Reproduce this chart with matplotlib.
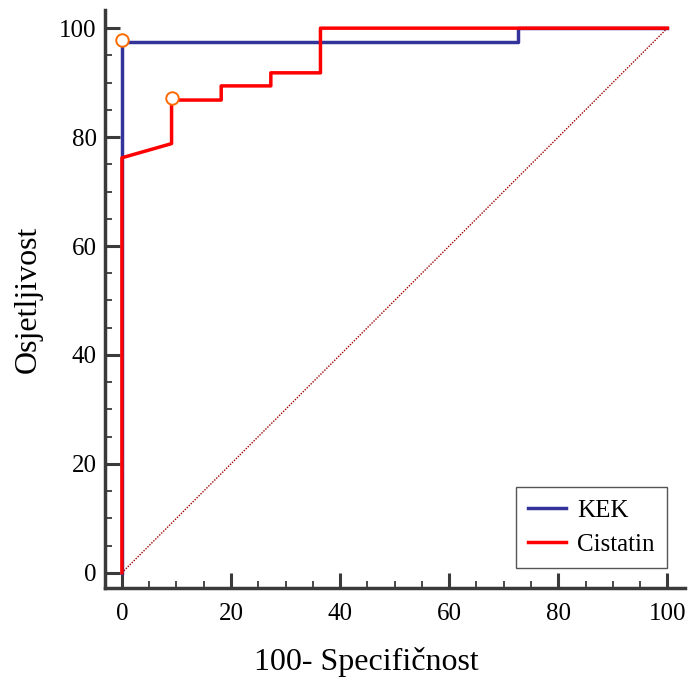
import matplotlib
matplotlib.use("Agg")
import matplotlib.pyplot as plt

plt.rcParams['font.family'] = ['Liberation Serif', 'DejaVu Serif']

# ROC curve points (100 - specificity, sensitivity)
kek_x = [0, 0, 72.7, 72.7, 100]
kek_y = [0, 97.4, 97.4, 100, 100]
cis_x = [0, 0, 9.1, 9.1, 18.2, 18.2, 27.3, 27.3, 36.4, 36.4, 100]
cis_y = [0, 76.2, 78.8, 86.8, 86.8, 89.4, 89.4, 91.8, 91.8, 100, 100]

# optimal cut-off points
kek_cut = (0, 97.8)
cis_cut = (9.1, 87.2)

fig = plt.figure(figsize=(6.91, 6.80), dpi=100)
ax = fig.add_axes([0.152, 0.1353, 0.839, 0.8497])

ax.plot([0, 100], [0, 100], color='#a00000', lw=1, ls=(0, (1, 1)))
ax.plot(kek_x, kek_y, color='#333399', lw=2.5, label='KEK', clip_on=False)
ax.plot(cis_x, cis_y, color='#ff0000', lw=2.5, label='Cistatin', clip_on=False)
ax.plot(*kek_cut, 'o', mfc='white', mec='#ff6a00', mew=1.4, ms=9, clip_on=False)
ax.plot(*cis_cut, 'o', mfc='white', mec='#ff6a00', mew=1.4, ms=9, clip_on=False)

ax.set_xlim(-3.1, 103.2)
ax.set_ylim(-2.8, 103.3)
ax.set_xticks(range(0, 101, 20))
ax.set_yticks(range(0, 101, 20))
ax.set_xticks([t for t in range(5, 100, 5) if t % 20], minor=True)
ax.set_yticks([t for t in range(5, 100, 5) if t % 20], minor=True)

for s in ['top', 'right']:
    ax.spines[s].set_visible(False)
for s in ['left', 'bottom']:
    ax.spines[s].set_color('#3a3a3a')
    ax.spines[s].set_linewidth(2.5)

ax.tick_params(which='major', direction='in', length=11, width=2.2, color='#3a3a3a',
               labelsize=18)
ax.tick_params(axis='y', which='major', pad=6)
ax.tick_params(axis='x', which='major', pad=11)
ax.tick_params(which='minor', direction='in', length=5, width=1.3, color='#3a3a3a')

ax.set_xlabel('100- Specifičnost', fontsize=23)
ax.xaxis.set_label_coords(0.45, -0.102)
ax.set_ylabel('Osjetljivost', fontsize=23, labelpad=12)

leg = ax.legend(loc='lower right', bbox_to_anchor=(0.9653, 0.1647),
                bbox_transform=fig.transFigure, borderaxespad=0, fontsize=18,
                fancybox=False, framealpha=1, edgecolor='#555555',
                handlelength=1.5, borderpad=0.5, labelspacing=0.45,
                handletextpad=0.45)
leg.get_frame().set_linewidth(1)

fig.savefig('out.png', dpi=100)
